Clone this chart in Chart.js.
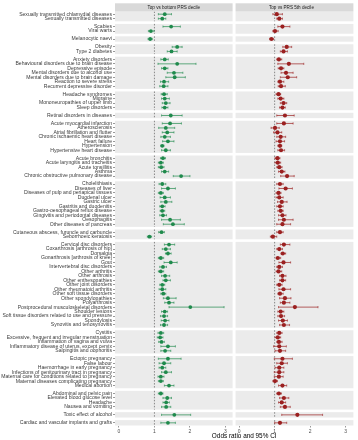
<!DOCTYPE html>
<html><head><meta charset="utf-8">
<script src="https://cdn.jsdelivr.net/npm/chart.js@4.4.0/dist/chart.umd.min.js"></script>
<style>html,body{margin:0;padding:0;background:#fff;}#wrap{position:relative;width:358px;height:440px;}</style>
</head><body><div id="wrap"><canvas id="c" width="358" height="440"></canvas></div>
<script>
const categories = [
"Sexually transmitted chlamydial diseases","Sexually transmitted diseases",
"Scabies","Viral warts",
"Melanocytic naevi",
"Obesity","Type 2 diabetes",
"Anxiety disorders","Behavioural disorders due to brain disease","Depressive episode","Mental disorders due to alcohol use","Mental disorders due to brain damage","Reaction to severe stress","Recurrent depressive disorder",
"Headache syndromes","Migraine","Mononeuropathies of upper limb","Sleep disorders",
"Retinal disorders in diseases",
"Acute myocardial infarction","Atherosclerosis","Atrial fibrillation and flutter","Chronic ischaemic heart disease","Heart failure","Hypertension","Hypertensive heart disease",
"Acute bronchitis","Acute laryngitis and tracheitis","Acute tonsillitis","Asthma","Chronic obstructive pulmonary disease",
"Cholelithiasis","Diseases of liver","Diseases of pulp and periapical tissues","Duodenal ulcer","Gastric ulcer","Gastritis and duodenitis","Gastro-oesophageal reflux disease","Gingivitis and periodontal diseases","Oesophagitis","Other diseases of pancreas",
"Cutaneous abscess, furuncle and carbuncle","Seborrhoeic keratosis",
"Cervical disc disorders","Coxarthrosis [arthrosis of hip]","Dorsalgia","Gonarthrosis [arthrosis of knee]","Gout","Intervertebral disc disorders","Other arthritis","Other arthrosis","Other enthesopathies","Other joint disorders","Other rheumatoid arthritis","Other soft tissue disorders","Other spondylopathies","Polyarthrosis","Postprocedural musculoskeletal disorders","Shoulder lesions","Soft tissue disorders related to use and pressure","Spondylosis","Synovitis and tenosynovitis",
"Cystitis","Excessive, frequent and irregular menstruation","Inflammation of vagina and vulva","Inflammatory disease of uterus, except cervix","Salpingitis and oophoritis",
"Ectopic pregnancy","False labour","Haemorrhage in early pregnancy","Infections of genitourinary tract in pregnancy","Maternal care for conditions related to pregnancy","Maternal diseases complicating pregnancy","Medical abortion",
"Abdominal and pelvic pain","Elevated blood glucose level","Headache","Nausea and vomiting",
"Toxic effect of alcohol",
"Cardiac and vascular implants and grafts"
];
const groupSizes = [2,2,1,2,7,4,1,7,5,10,2,19,5,7,4,1,1];
const panelTitles = ["Top vs bottom PRS decile","Top vs PRS 5th decile"];
const xTickValues = [0,1,2,3];
const axisTitle = "Odds ratio and 95% CI";

const orBottom = [1.29,1.22, 1.47,0.90, 0.88, 1.64,1.48,
 1.29,1.64,1.29,1.55,1.57,1.27,1.26, 1.27,1.29,1.32,1.29, 1.46,
 1.44,1.32,1.36,1.29,1.38,1.22,1.32, 1.24,1.18,1.19,1.29,1.75,
 1.22,1.38,1.18,1.29,1.32,1.22,1.22,1.24,1.44,1.52, 1.20,0.86,
 1.41,1.32,1.38,1.18,1.46,1.24,1.18,1.30,1.32,1.22,1.22,1.25,1.38,1.41,2.01,1.29,1.27,1.30,1.27,
 1.18,1.16,1.20,1.38,1.30, 1.38,1.27,1.22,1.32,1.18,1.18,1.41, 1.18,1.36,1.33,1.33, 1.56, 1.38];
const loBottom = [1.11,1.11, 1.24,0.83, 0.82, 1.50,1.36,
 1.18,1.10,1.20,1.36,1.32,1.17,1.15, 1.19,1.20,1.22,1.21, 1.20,
 1.22,1.12,1.22,1.18,1.23,1.18,1.20, 1.17,1.11,1.11,1.20,1.53,
 1.13,1.20,1.11,1.16,1.18,1.15,1.16,1.15,1.20,1.25, 1.12,0.80,
 1.28,1.22,1.31,1.11,1.27,1.15,1.11,1.20,1.24,1.15,1.13,1.18,1.25,1.29,1.41,1.20,1.17,1.19,1.17,
 1.10,1.08,1.12,1.18,1.18, 1.11,1.13,1.13,1.20,1.10,1.11,1.28, 1.11,1.24,1.24,1.20, 1.20, 1.18];
const hiBottom = [1.48,1.32, 1.73,0.99, 0.94, 1.78,1.64,
 1.39,2.17,1.38,1.80,1.87,1.40,1.38, 1.36,1.42,1.44,1.38, 1.78,
 1.76,1.57,1.55,1.45,1.55,1.27,1.45, 1.31,1.25,1.27,1.40,2.00,
 1.32,1.59,1.25,1.45,1.49,1.30,1.29,1.34,1.73,1.84, 1.28,0.92,
 1.57,1.45,1.47,1.26,1.64,1.34,1.26,1.43,1.45,1.29,1.32,1.32,1.61,1.55,2.96,1.37,1.37,1.41,1.37,
 1.26,1.24,1.28,1.59,1.46, 1.75,1.46,1.32,1.48,1.27,1.25,1.55, 1.24,1.48,1.42,1.46, 2.02, 1.59];

const orFifth = [1.06,1.13, 1.22,1.01, 0.91, 1.34,1.25,
 1.12,1.40,1.18,1.32,1.37,1.15,1.18, 1.11,1.17,1.25,1.22, 1.29,
 1.26,1.01,1.08,1.17,1.15,1.15,1.18, 1.08,1.09,1.13,1.20,1.35,
 1.15,1.31,1.11,1.13,1.20,1.15,1.17,1.22,1.26,1.22, 1.15,0.95,
 1.26,1.13,1.23,1.09,1.25,1.13,1.11,1.22,1.22,1.13,1.25,1.15,1.29,1.26,1.57,1.17,1.18,1.23,1.26,
 1.13,1.09,1.12,1.13,1.15, 1.22,1.20,1.13,1.13,1.12,1.01,1.22, 1.12,1.26,1.20,1.29, 1.64, 1.15];
const loFifth = [0.95,1.06, 1.09,0.95, 0.86, 1.23,1.16,
 1.06,1.09,1.10,1.18,1.16,1.09,1.10, 1.04,1.09,1.16,1.14, 1.06,
 1.06,0.90,0.97,1.06,1.04,1.09,1.09, 1.01,1.01,1.06,1.11,1.17,
 1.06,1.12,1.04,1.04,1.08,1.06,1.09,1.11,1.11,1.06, 1.06,0.88,
 1.16,1.06,1.18,1.04,1.12,1.06,1.04,1.14,1.14,1.06,1.12,1.09,1.14,1.16,1.11,1.09,1.09,1.11,1.14,
 1.06,1.01,1.06,0.97,1.01, 0.99,1.06,1.01,0.99,0.99,0.95,1.11, 1.06,1.14,1.11,1.16, 1.20, 1.00];
const hiFifth = [1.22,1.22, 1.43,1.10, 0.97, 1.48,1.36,
 1.20,1.82,1.26,1.52,1.62,1.26,1.30, 1.17,1.26,1.34,1.30, 1.55,
 1.52,1.13,1.20,1.31,1.28,1.20,1.28, 1.15,1.17,1.21,1.29,1.55,
 1.24,1.50,1.18,1.24,1.35,1.24,1.24,1.32,1.52,1.45, 1.24,1.06,
 1.43,1.22,1.31,1.17,1.45,1.22,1.20,1.32,1.31,1.21,1.45,1.24,1.46,1.43,2.22,1.26,1.28,1.36,1.42,
 1.21,1.17,1.21,1.33,1.31, 1.50,1.36,1.26,1.26,1.24,1.08,1.34, 1.19,1.40,1.31,1.44, 2.35, 1.34];

// ---- layout helpers (facet geometry) ----
const GROUP_GAP = 0.78;
const X_MIN = -0.11, PANEL_L_END = 3.2, PANEL_R_START = 3.283, OFFSET = 3.383, X_MAX = 6.6;
const rowPos = [], groupRanges = [];
let pos = -1;
groupSizes.forEach((n, g) => {
  pos += (g > 0 ? 1 + GROUP_GAP : 1);
  const start = pos; rowPos.push(pos);
  for (let i = 1; i < n; i++) { pos += 1; rowPos.push(pos); }
  groupRanges.push([start - 0.6, pos + 0.6]);
});
const Y_MIN = -0.6, Y_MAX = pos + 0.6;

function ciData(lo, hi, off) {
  const d = [];
  rowPos.forEach((r, i) => { d.push({x: lo[i] + off, y: r}, {x: hi[i] + off, y: r}, {x: NaN, y: NaN}); });
  return d;
}
function ptData(v, off) { return rowPos.map((r, i) => ({x: v[i] + off, y: r})); }
function refData(off) {
  const d = [];
  groupRanges.forEach(([s, e]) => { d.push({x: 1 + off, y: s}, {x: 1 + off, y: e}, {x: NaN, y: NaN}); });
  return d;
}

const GREEN = '#1f8a4c', RED = '#9b2020';
Chart.defaults.font.family = "'Liberation Sans', Arial, sans-serif";

const facetPlugin = {
  id: 'facet',
  beforeDatasetsDraw(chart) {
    const {ctx, chartArea, scales: {x, y}} = chart;
    ctx.save();
    const panels = [[X_MIN, PANEL_L_END], [PANEL_R_START, X_MAX]];
    panels.forEach(([a, b], k) => {
      const xl = x.getPixelForValue(a), xr = x.getPixelForValue(b);
      ctx.fillStyle = '#EBEBEB';
      groupRanges.forEach(([s, e]) => {
        const yt = y.getPixelForValue(s), yb = y.getPixelForValue(e);
        ctx.fillRect(xl, yt, xr - xl, yb - yt);
      });
      ctx.fillStyle = '#D9D9D9';
      ctx.fillRect(xl, 3.3, xr - xl, chartArea.top - 3.3);
      ctx.fillStyle = '#1a1a1a';
      ctx.font = "4.6px 'Liberation Sans', Arial, sans-serif";
      ctx.textAlign = 'center'; ctx.textBaseline = 'middle';
      ctx.fillText(panelTitles[k], (xl + xr) / 2 - (k === 1 ? 3 : 0), (3.3 + chartArea.top) / 2);
    });
    ctx.restore();
  },
  afterDraw(chart) {
    const {ctx, chartArea} = chart;
    ctx.save();
    ctx.fillStyle = '#000';
    ctx.font = "6.4px 'Liberation Sans', Arial, sans-serif";
    ctx.textAlign = 'center'; ctx.textBaseline = 'middle';
    ctx.fillText(axisTitle, chartArea.left + (chartArea.right - chartArea.left) / 2 + 10, 436.5);
    ctx.restore();
  }
};

new Chart(document.getElementById('c'), {
  type: 'scatter',
  data: {
    datasets: [
      {data: refData(0), showLine: true, borderColor: '#444', borderWidth: 0.6, borderDash: [1.5, 1.5], pointRadius: 0, order: 4},
      {data: refData(OFFSET), showLine: true, borderColor: '#444', borderWidth: 0.6, borderDash: [1.5, 1.5], pointRadius: 0, order: 4},
      {data: ciData(loBottom, hiBottom, 0), showLine: true, spanGaps: false, borderColor: GREEN, borderWidth: 0.7,
       pointStyle: 'line', rotation: 90, pointRadius: 1.1, pointBorderColor: GREEN, pointBorderWidth: 0.6, order: 3},
      {data: ciData(loFifth, hiFifth, OFFSET), showLine: true, spanGaps: false, borderColor: RED, borderWidth: 0.7,
       pointStyle: 'line', rotation: 90, pointRadius: 1.1, pointBorderColor: RED, pointBorderWidth: 0.6, order: 3},
      {data: ptData(orBottom, 0), pointRadius: 1.9, pointBackgroundColor: GREEN, pointBorderColor: GREEN, pointBorderWidth: 0, order: 1},
      {data: ptData(orFifth, OFFSET), pointRadius: 2.1, pointBackgroundColor: RED, pointBorderColor: RED, pointBorderWidth: 0, order: 1}
    ]
  },
  options: {
    responsive: false, animation: false, devicePixelRatio: 1,
    layout: {padding: {top: 11.5, left: 0, right: 0, bottom: 0}},
    plugins: {legend: {display: false}, tooltip: {enabled: false}},
    scales: {
      x: {
        type: 'linear', min: X_MIN, max: X_MAX,
        afterBuildTicks: s => { s.ticks = xTickValues.concat(xTickValues.map(v => v + OFFSET)).map(v => ({value: v})); },
        afterFit: s => { s.height = 14.5; },
        ticks: {autoSkip: false, maxRotation: 0, font: {size: 5}, color: '#4d4d4d', padding: 1,
                callback: (v, i) => String(xTickValues[i % xTickValues.length])},
        grid: {drawOnChartArea: false, drawTicks: true, tickLength: 2, color: '#333', lineWidth: 0.5},
        border: {display: false}
      },
      y: {
        type: 'linear', reverse: true, min: Y_MIN, max: Y_MAX,
        afterBuildTicks: s => { s.ticks = rowPos.map(v => ({value: v})); },
        afterFit: s => { s.width = 115; },
        ticks: {autoSkip: false, font: {size: 5.1}, color: '#3a3a3a', padding: 1,
                callback: (v, i) => categories[i]},
        grid: {drawOnChartArea: false, drawTicks: true, tickLength: 2, color: '#333', lineWidth: 0.5},
        border: {display: false}
      }
    }
  },
  plugins: [facetPlugin]
});
</script>
</body></html>
